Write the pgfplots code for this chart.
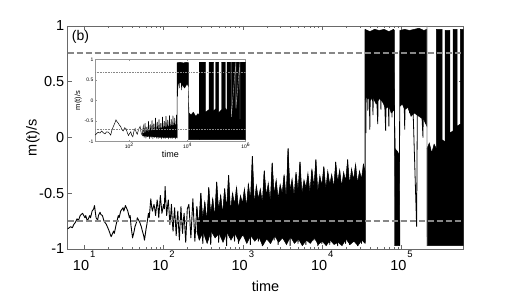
\documentclass[border=0pt]{standalone}
\usepackage{fontspec}
\setmainfont{Liberation Sans}
\usepackage{pgfplots}
\pgfplotsset{compat=1.18}
\definecolor{dashgray}{RGB}{135,135,135}
\definecolor{boxgray}{RGB}{105,105,105}
% data columns: L = log10(time), m = m(t)/s
\pgfplotsset{table/lg/.style={x expr=10^\thisrow{L}, y=m}}
\newcommand{\dec}[1]{10\hspace{1pt}\raisebox{12.5pt}{\fontsize{9.5}{10}\selectfont #1}}

\begin{document}
\begin{tikzpicture}
\begin{axis}[
  at={(0,0)}, anchor=south west, scale only axis,
  width=395.6pt, height=223pt,
  xmode=log, xmin=6.2, xmax=6e5, ymin=-1, ymax=1,
  xtick={10,100,1000,10000,100000},
  xticklabels={\dec{1},\dec{2},\dec{3},\dec{4},\dec{5}},
  ytick={-1,-0.5,0,0.5,1}, yticklabels={-1,-0.5,0,0.5,1},
  tick align=inside, major tick length=4pt, minor tick length=2pt,
  axis line style={boxgray, line width=0.6pt},
  tick style={boxgray, line width=0.5pt},
  every tick label/.append style={font=\fontsize{14.5}{17}\selectfont},
  xticklabel style={inner sep=2pt},
  xlabel=time, ylabel=m(t)/s,
  label style={font=\fontsize{14.5}{17}\selectfont},
  xlabel style={at={(axis description cs:0.5,-0.166)}, anchor=center},
  ylabel style={at={(axis description cs:-0.088,0.5)}, anchor=center},
]
% spiky solid body of the dense fluctuating part
\addplot[fill=black, draw=black, line width=0.5pt] table[lg] {
L m
2.42 -0.62
2.445 -0.78
2.47 -0.50
2.495 -0.72
2.52 -0.58
2.545 -0.74
2.57 -0.45
2.595 -0.68
2.62 -0.55
2.645 -0.71
2.67 -0.40
2.695 -0.65
2.72 -0.52
2.745 -0.68
2.77 -0.46
2.795 -0.63
2.82 -0.34
2.845 -0.66
2.87 -0.50
2.895 -0.60
2.92 -0.45
2.945 -0.64
2.97 -0.52
2.995 -0.59
3.02 -0.46
3.045 -0.62
3.07 -0.42
3.095 -0.56
3.12 -0.17
3.145 -0.60
3.17 -0.43
3.195 -0.55
3.22 -0.46
3.245 -0.58
3.27 -0.30
3.295 -0.52
3.32 -0.41
3.345 -0.57
3.37 -0.23
3.395 -0.51
3.42 -0.38
3.445 -0.55
3.47 -0.42
3.495 -0.50
3.52 -0.33
3.545 -0.54
3.57 -0.10
3.595 -0.48
3.62 -0.37
3.645 -0.52
3.67 -0.31
3.695 -0.47
3.72 -0.22
3.745 -0.50
3.77 -0.38
3.795 -0.45
3.82 -0.32
3.845 -0.49
3.87 -0.28
3.895 -0.44
3.92 -0.20
3.945 -0.48
3.97 -0.34
3.995 -0.43
4.02 -0.26
4.045 -0.46
4.07 -0.30
4.095 -0.42
4.12 -0.33
4.145 -0.45
4.17 -0.22
4.195 -0.40
4.22 -0.29
4.245 -0.44
4.27 -0.31
4.295 -0.39
4.32 -0.20
4.345 -0.42
4.37 -0.28
4.395 -0.38
4.42 -0.24
4.445 -0.41
4.47 -0.30
4.495 -0.37
4.52 -0.24
4.54 -0.30
4.54 -0.95
4.50 -0.92
4.45 -0.97
4.40 -0.93
4.35 -0.96
4.30 -0.91
4.25 -0.97
4.20 -0.94
4.15 -0.96
4.10 -0.92
4.05 -0.97
4.00 -0.93
3.95 -0.96
3.90 -0.90
3.85 -0.95
3.80 -0.92
3.75 -0.97
3.70 -0.91
3.65 -0.95
3.60 -0.89
3.55 -0.96
3.50 -0.90
3.45 -0.94
3.40 -0.88
3.35 -0.95
3.30 -0.91
3.25 -0.97
3.20 -0.89
3.15 -0.93
3.10 -0.88
3.05 -0.95
3.00 -0.87
2.95 -0.93
2.90 -0.86
2.85 -0.92
2.80 -0.85
2.75 -0.94
2.70 -0.86
2.65 -0.90
2.60 -0.84
2.55 -0.95
2.50 -0.85
2.45 -0.92
2.42 -0.84
};
% slow early part and fluctuating part
\addplot[black, line width=0.9pt, line join=round] table[lg] {
L m
0.79 -0.82
0.81 -0.81
0.83 -0.80
0.85 -0.81
0.87 -0.78
0.89 -0.76
0.91 -0.73
0.93 -0.74
0.95 -0.70
0.98 -0.68
1.01 -0.72
1.02 -0.70
1.04 -0.75
1.07 -0.70
1.08 -0.72
1.10 -0.66
1.12 -0.64
1.13 -0.61
1.15 -0.72
1.17 -0.74
1.18 -0.70
1.20 -0.67
1.21 -0.69
1.23 -0.70
1.25 -0.75
1.28 -0.78
1.31 -0.83
1.34 -0.89
1.37 -0.84
1.38 -0.86
1.40 -0.79
1.43 -0.70
1.44 -0.72
1.46 -0.66
1.49 -0.63
1.50 -0.66
1.52 -0.61
1.55 -0.66
1.57 -0.72
1.58 -0.70
1.59 -0.79
1.61 -0.90
1.63 -0.84
1.64 -0.80
1.66 -0.76
1.67 -0.72
1.70 -0.76
1.72 -0.80
1.73 -0.83
1.75 -0.88
1.76 -0.92
1.78 -0.82
1.79 -0.78
1.81 -0.68
1.82 -0.72
1.84 -0.55
1.85 -0.62
1.86 -0.66
1.88 -0.60
1.89 -0.64
1.90 -0.70
1.92 -0.56
1.93 -0.62
1.94 -0.72
1.96 -0.52
1.97 -0.60
1.98 -0.68
2.00 -0.60
2.01 -0.64
2.02 -0.44
2.03 -0.58
2.04 -0.70
2.05 -0.62
2.06 -0.56
2.07 -0.66
2.08 -0.78
2.09 -0.70
2.10 -0.60
2.11 -0.74
2.12 -0.84
2.13 -0.72
2.14 -0.63
2.15 -0.76
2.16 -0.88
2.17 -0.74
2.18 -0.66
2.19 -0.80
2.20 -0.92
2.21 -0.76
2.22 -0.62
2.23 -0.76
2.24 -0.86
2.25 -0.74
2.26 -0.68
2.27 -0.82
2.28 -0.94
2.29 -0.78
2.30 -0.64
2.32 -0.60
2.345 -0.90
2.37 -0.55
2.395 -0.93
2.42 -0.62
2.445 -0.88
2.47 -0.50
2.495 -0.95
2.52 -0.58
2.545 -0.91
2.57 -0.45
2.595 -0.96
2.62 -0.55
2.645 -0.89
2.67 -0.40
2.695 -0.94
2.72 -0.52
2.745 -0.92
2.77 -0.46
2.795 -0.97
2.82 -0.34
2.845 -0.90
2.87 -0.50
2.895 -0.93
2.92 -0.45
2.945 -0.95
2.97 -0.55
2.995 -0.88
3.02 -0.48
3.045 -0.94
3.07 -0.42
3.095 -0.96
3.12 -0.17
3.145 -0.91
3.17 -0.45
3.195 -0.93
3.22 -0.50
3.245 -0.97
3.27 -0.30
3.295 -0.90
3.32 -0.44
3.345 -0.95
3.37 -0.23
3.395 -0.92
3.42 -0.40
3.445 -0.96
3.47 -0.45
3.495 -0.89
3.52 -0.35
3.545 -0.94
3.57 -0.10
3.595 -0.97
3.62 -0.40
3.645 -0.93
3.67 -0.33
3.695 -0.95
3.72 -0.22
3.745 -0.91
3.77 -0.42
3.795 -0.96
3.82 -0.35
3.845 -0.94
3.87 -0.30
3.895 -0.92
3.92 -0.20
3.945 -0.97
3.97 -0.38
3.995 -0.95
4.02 -0.27
4.045 -0.93
4.07 -0.32
4.095 -0.96
4.12 -0.36
4.145 -0.94
4.17 -0.22
4.195 -0.97
4.22 -0.30
4.245 -0.92
4.27 -0.34
4.295 -0.95
4.32 -0.20
4.345 -0.96
4.37 -0.30
4.395 -0.93
4.42 -0.25
4.445 -0.97
4.47 -0.32
4.495 -0.95
4.52 -0.24
4.54 -0.94
4.54 0.97
};
% upper state, first stay
\addplot[fill=black, draw=black, line width=0.5pt] table[lg] {
L m
4.54 0.97
4.60 0.95
4.66 0.97
4.72 0.96
4.78 0.97
4.84 0.95
4.90 0.97
4.91 0.96
4.91 0.25
4.87 0.22
4.84 0.28
4.80 0.26
4.76 0.32
4.72 0.35
4.68 0.30
4.64 0.36
4.60 0.33
4.57 0.37
4.54 0.34
};
% short dip to the lower state
\addplot[fill=black, draw=black, line width=0.5pt] table[lg] {
L m
4.91 0.25
4.92 -0.10
4.97 -0.15
4.98 -0.97
4.91 -0.97
};
% upper state, second stay
\addplot[fill=black, draw=black, line width=0.5pt] table[lg] {
L m
4.98 0.96
5.04 0.97
5.10 0.96
5.16 0.97
5.22 0.98
5.28 0.96
5.32 0.97
5.32 0.10
5.28 0.16
5.24 0.18
5.20 0.20
5.16 0.22
5.12 0.19
5.08 0.27
5.04 0.25
5.01 0.30
4.98 0.28
};
% switching between the two states
\addplot[fill=black, draw=black, line width=0.5pt] table[lg] {
L m
5.32 -0.10
5.35 -0.05
5.38 -0.14
5.41 -0.06
5.44 -0.10
5.44 0.97
5.51 0.97
5.51 -0.02
5.55 -0.04
5.55 0.96
5.61 0.96
5.61 0.04
5.65 0.06
5.65 0.97
5.70 0.97
5.70 0.10
5.74 0.12
5.74 0.97
5.78 0.97
5.78 -0.97
5.32 -0.97
};
% excursions in the late part
\addplot[black, line width=0.8pt] table[lg] {
L m
4.545 0.95
4.55 0.04
4.56 0.92
4.575 0.24
4.585 0.94
4.60 0.07
4.615 0.93
4.64 0.20
4.655 0.95
4.70 0.12
4.715 0.94
4.74 0.25
4.755 0.93
4.80 0.06
4.815 0.95
4.84 0.10
4.855 0.94
4.88 0.18
4.895 0.95
4.91 0.25
4.915 -0.10
4.93 -0.97
4.945 -0.12
4.96 -0.96
4.975 -0.05
4.98 0.96
5.00 0.30
5.015 0.95
5.04 0.07
5.055 0.96
5.10 0.22
5.115 0.95
5.19 -0.80
5.205 0.96
5.27 0.00
5.285 0.95
};
\addplot[gray, line width=0.7pt] table[lg] {
L m
5.32 1.00
5.322 -0.97
};
\addplot[dashgray, line width=1.6pt, dash pattern=on 6pt off 3pt] table[lg] {
L m
0.79 0.76
5.78 0.76
};
\addplot[dashgray, line width=1.6pt, dash pattern=on 6pt off 3pt] table[lg] {
L m
0.79 -0.75
5.78 -0.75
};
\node[anchor=west, inner sep=0pt, font=\fontsize{14}{16}\selectfont]
  at ([xshift=4pt,yshift=-11pt]rel axis cs:0,1) {(b)};
\end{axis}

% inset
\begin{axis}[
  at={(27.3pt,107.3pt)}, anchor=south west, scale only axis,
  width=150.7pt, height=82.4pt,
  axis background/.style={fill=white},
  xmode=log, xmin=6.6, xmax=1e6, ymin=-1, ymax=1,
  xtick={100,10000,1000000},
  xticklabels={10\textsuperscript{2},10\textsuperscript{4},10\textsuperscript{6}},
  xminorticks=false,
  ytick={-1,-0.5,0,0.5,1}, yticklabels={-1,-0.5,0,0.5,1},
  tick align=inside, major tick length=2pt,
  axis line style={boxgray!70, line width=0.4pt},
  tick style={boxgray!70, line width=0.4pt},
  every tick label/.append style={font=\fontsize{5}{6}\selectfont, inner sep=1.5pt},
  xlabel=time, ylabel=m(t)/s,
  xlabel style={font=\fontsize{9}{10}\selectfont, at={(axis description cs:0.5,-0.149)}, anchor=center},
  ylabel style={font=\fontsize{7.5}{9}\selectfont, at={(axis description cs:-0.111,0.5)}, anchor=center},
]
\addplot[black, line width=0.5pt] table[lg] {
L m
0.82 -0.84
0.88 -0.80
0.93 -0.77
0.99 -0.79
1.05 -0.74
1.10 -0.78
1.16 -0.81
1.22 -0.76
1.28 -0.77
1.32 -0.80
1.36 -0.84
1.40 -0.72
1.45 -0.63
1.50 -0.55
1.54 -0.47
1.58 -0.52
1.62 -0.55
1.66 -0.60
1.70 -0.63
1.74 -0.70
1.79 -0.74
1.84 -0.66
1.89 -0.69
1.93 -0.78
1.97 -0.85
2.01 -0.80
2.05 -0.76
2.08 -0.84
2.12 -0.88
2.16 -0.74
2.20 -0.68
2.23 -0.76
2.27 -0.82
2.32 -0.70
2.37 -0.63
2.41 -0.80
2.44 -0.84
2.48 -0.62
2.51 -0.90
2.54 -0.55
2.57 -0.92
2.60 -0.64
2.63 -0.88
2.66 -0.50
2.69 -0.93
2.72 -0.58
2.75 -0.91
2.78 -0.48
2.81 -0.94
2.84 -0.56
2.87 -0.90
2.90 -0.42
2.93 -0.92
2.96 -0.52
2.99 -0.93
3.02 -0.46
3.05 -0.91
3.08 -0.55
3.11 -0.94
3.14 -0.40
3.17 -0.92
3.20 -0.50
3.23 -0.93
3.26 -0.38
3.29 -0.90
3.32 -0.47
3.35 -0.94
3.38 -0.36
3.41 -0.92
3.44 -0.45
3.47 -0.93
3.50 -0.37
3.53 -0.91
3.56 -0.42
3.59 -0.94
3.62 -0.35
3.64 -0.92
3.64 0.92
3.66 0.10
3.68 0.90
3.72 0.30
3.74 0.92
3.80 0.25
3.82 0.92
};
\addplot[fill=black, draw=black, line width=0.3pt] table[lg] {
L m
2.45 -0.80
2.80 -0.72
3.20 -0.65
3.64 -0.58
3.64 -0.90
3.20 -0.90
2.80 -0.88
2.45 -0.86
};
\addplot[fill=black, draw=black, line width=0.3pt] table[lg] {
L m
3.64 0.92
3.75 0.93
3.85 0.91
3.95 0.93
4.03 0.92
4.03 0.35
3.98 0.40
3.90 0.30
3.82 0.38
3.74 0.45
3.68 0.40
3.64 0.20
};
\addplot[fill=black, draw=black, line width=0.3pt] table[lg] {
L m
4.03 0.35
4.05 -0.30
4.12 -0.35
4.20 -0.28
4.28 -0.38
4.36 -0.32
4.40 -0.35
4.40 -0.95
4.03 -0.95
};
\addplot[fill=black, draw=black, line width=0.3pt] table[lg] {
L m
4.40 -0.30
4.40 0.93
4.62 0.93
4.62 -0.28
4.74 -0.22
4.74 0.93
4.90 0.93
4.90 -0.25
4.97 -0.20
4.97 0.93
5.07 0.93
5.07 -0.30
5.17 -0.22
5.17 0.93
5.30 0.93
5.30 -0.18
5.36 -0.25
5.36 0.93
6.00 0.93
6.00 -0.95
4.40 -0.95
};
\addplot[gray!70, line width=0.4pt] table[lg] {
L m
5.50 0.93
5.505 -0.40
5.66 0.93
5.665 -0.20
5.80 0.93
5.805 -0.45
};
\addplot[dashgray, line width=0.4pt, dash pattern=on 1pt off 0.6pt] table[lg] {
L m
0.82 0.68
6.00 0.68
};
\addplot[dashgray, line width=0.4pt, dash pattern=on 1pt off 0.6pt] table[lg] {
L m
0.82 -0.70
6.00 -0.70
};
\end{axis}
\pgfresetboundingbox
\path[use as bounding box] (-67.7pt,-56pt) rectangle (444.3pt,249pt);
\end{tikzpicture}
\end{document}
